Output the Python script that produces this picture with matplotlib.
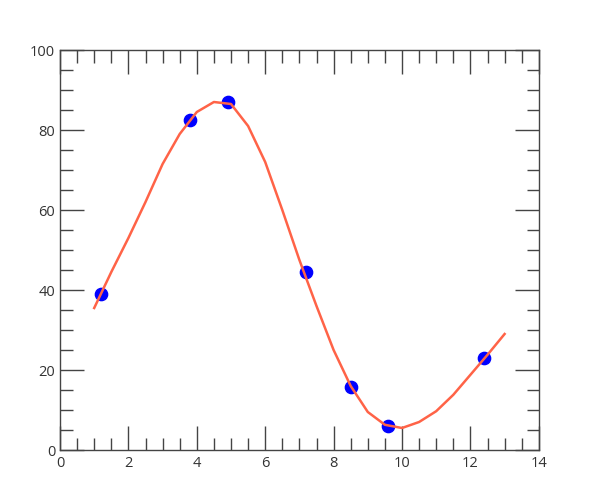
import matplotlib
matplotlib.use("Agg")
import matplotlib.pyplot as plt
from matplotlib.ticker import MultipleLocator

# Dados
linha_x = [1, 1.5, 2, 2.5, 3, 3.5, 4, 4.5, 5, 5.5, 6, 6.5, 7, 7.5, 8, 8.5,
           9, 9.5, 10, 10.5, 11, 11.5, 12, 12.5, 13]
linha_y = [35.5, 44.5, 53, 62, 71.5, 79, 84.5, 87, 86.5, 81, 72, 60, 47.5,
           36, 25, 16, 9.5, 6.3, 5.5, 7, 9.7, 13.8, 18.8, 23.8, 29]
pontos_x = [1.2, 3.8, 4.9, 7.2, 8.5, 9.6, 12.4]
pontos_y = [39, 82.5, 87, 44.5, 15.7, 6, 23]

plt.rcParams['font.family'] = ['Open Sans', 'DejaVu Sans']

fig = plt.figure(figsize=(6, 5), dpi=100)
ax = fig.add_axes([0.1, 0.1, 0.798, 0.8])

# pontos por baixo, linha por cima
ax.scatter(pontos_x, pontos_y, s=78, color='#0000ff', zorder=2)
ax.plot(linha_x, linha_y, color='#ff6347', linewidth=1.8, zorder=3)

ax.set_xlim(0, 14)
ax.set_ylim(0, 100)
ax.xaxis.set_major_locator(MultipleLocator(2))
ax.xaxis.set_minor_locator(MultipleLocator(0.5))
ax.yaxis.set_major_locator(MultipleLocator(20))
ax.yaxis.set_minor_locator(MultipleLocator(5))

for s in ax.spines.values():
    s.set_color('#444444')
    s.set_linewidth(1)
ax.tick_params(which='both', direction='in', top=True, right=True,
               color='#444444', labelcolor='#333333', labelsize=10.5)
ax.tick_params(which='major', length=17, width=1)
ax.tick_params(which='minor', length=9, width=1)
ax.tick_params(axis='x', pad=4)

fig.savefig('out.png', dpi=100)
